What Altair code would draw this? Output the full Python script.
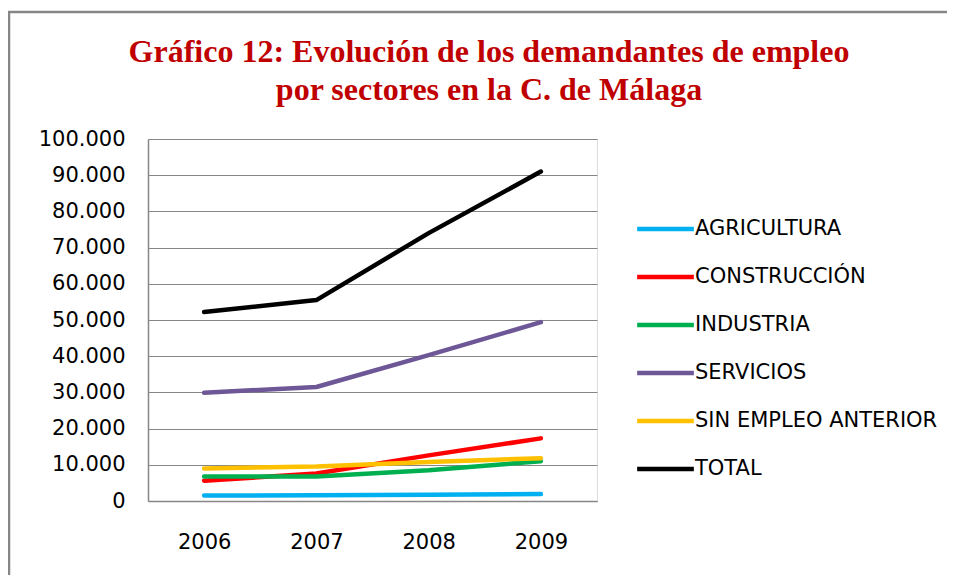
import altair as alt
import pandas as pd

years = ["2006", "2007", "2008", "2009"]
series_names = ["AGRICULTURA", "CONSTRUCCIÓN", "INDUSTRIA", "SERVICIOS",
                "SIN EMPLEO ANTERIOR", "TOTAL"]
agricultura = [1500, 1600, 1750, 1900]
construccion = [5600, 7600, 12600, 17300]
industria = [6800, 6800, 8500, 11000]
servicios = [29900, 31500, 40300, 49400]
sin_empleo = [9000, 9500, 10800, 11800]
total = [52200, 55500, 74000, 91000]
colors = ["#00B0F0", "#FF0000", "#00B050", "#6E5796", "#FFC000", "#000000"]
y_ticks = [0, 10000, 20000, 30000, 40000, 50000, 60000, 70000, 80000, 90000, 100000]
title_lines = ["Gráfico 12: Evolución de los demandantes de empleo",
               "por sectores en la C. de Málaga"]

values = [agricultura, construccion, industria, servicios, sin_empleo, total]
rows = []
for name, vals in zip(series_names, values):
    for yr, v in zip(years, vals):
        rows.append({"year": yr, "serie": name, "value": v})
df = pd.DataFrame(rows)

W, H = 449, 362
PAD_L, PAD_T = 140, 131

lines = alt.Chart(df).mark_line(strokeWidth=4.5, strokeCap="round", strokeJoin="round").encode(
    x=alt.X("year:O", sort=years, title=None,
            scale=alt.Scale(type="point", padding=0.5),
            axis=alt.Axis(labelAngle=0, ticks=False, grid=False, domain=True,
                          domainColor="#868686", domainWidth=1.5,
                          labelFont="DejaVu Sans", labelFontSize=21, labelColor="#000000",
                          labelPadding=30)),
    y=alt.Y("value:Q", title=None,
            scale=alt.Scale(domain=[0, 100000], nice=False),
            axis=alt.Axis(values=y_ticks, ticks=False, grid=True, gridColor="#868686",
                          gridWidth=1, domain=True, domainColor="#868686", domainWidth=1.5,
                          labelFont="DejaVu Sans", labelFontSize=21, labelColor="#000000",
                          labelPadding=23,
                          labelExpr="replace(replace(format(datum.value, ','), ',', '.'), ',', '.')")),
    color=alt.Color("serie:N", sort=series_names,
                    scale=alt.Scale(domain=series_names, range=colors),
                    legend=alt.Legend(title=None, orient="none", legendX=501.5, legendY=74,
                                      symbolType="M-2.1,0H2.1", symbolSize=729,
                                      symbolStrokeWidth=4.5, labelOffset=13.5,
                                      rowPadding=22, padding=0,
                                      labelFont="DejaVu Sans", labelFontSize=21,
                                      labelColor="#000000", labelLimit=400)),
    order=alt.Order("year:O"),
)

border = alt.Chart(alt.Data(values=[{}])).mark_rect(
    fill="transparent", stroke="#868686", strokeWidth=2.5
).encode(
    x=alt.value(-139), y=alt.value(-127), x2=alt.value(W + 400), y2=alt.value(H + 200)
)

title_df = pd.DataFrame({"t": title_lines, "line": [0, 1]})
title1 = alt.Chart(title_df[title_df["line"] == 0]).mark_text(
    font="Liberation Serif", fontSize=32, fontWeight="bold", color="#C00000",
    align="center", baseline="alphabetic"
).encode(text="t:N", x=alt.value(341), y=alt.value(-77))
title2 = alt.Chart(title_df[title_df["line"] == 1]).mark_text(
    font="Liberation Serif", fontSize=32, fontWeight="bold", color="#C00000",
    align="center", baseline="alphabetic"
).encode(text="t:N", x=alt.value(341), y=alt.value(-39))

chart = alt.layer(border, title1, title2, lines).properties(
    width=W, height=H,
    autosize=alt.AutoSizeParams(type="none"),
    padding={"left": PAD_L, "top": PAD_T, "right": 350, "bottom": 74},
).configure_view(stroke=None).configure(background="white")

chart.save("out.html", embed_options={"renderer": "svg", "actions": False})
